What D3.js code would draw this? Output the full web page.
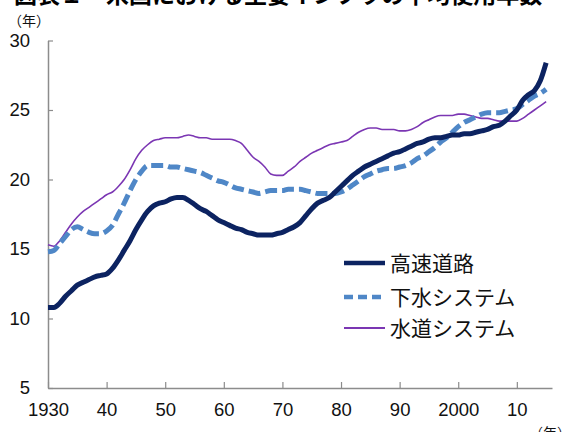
<!DOCTYPE html>
<html><head><meta charset="utf-8">
<script src="https://cdn.jsdelivr.net/npm/d3@7"></script>
<style>
html,body{margin:0;padding:0;background:#fff;}
svg{display:block;}
</style></head>
<body>
<svg id="chart" width="571" height="432"></svg>
<script>
const titleText = "図表１　米国における主要インフラの平均使用年数";
const seriesNames = ["高速道路", "下水システム", "水道システム"];
const startYear = 1930;
const highway = [10.8,10.8,11.1,11.6,12.0,12.4,12.6,12.8,13.0,13.1,
  13.2,13.6,14.2,14.9,15.6,16.4,17.1,17.7,18.1,18.3,
  18.4,18.6,18.7,18.7,18.5,18.2,17.9,17.7,17.4,17.1,
  16.9,16.7,16.5,16.4,16.2,16.1,16.0,16.0,16.0,16.1,
  16.2,16.4,16.6,16.9,17.4,17.9,18.3,18.5,18.7,19.1,
  19.5,19.9,20.3,20.6,20.9,21.1,21.3,21.5,21.7,21.9,
  22.0,22.2,22.4,22.6,22.7,22.9,23.0,23.0,23.1,23.2,
  23.2,23.3,23.3,23.4,23.5,23.6,23.8,23.9,24.2,24.6,
  25.0,25.7,26.1,26.4,27.1,28.4];
const sewer = [14.8,14.9,15.4,15.9,16.4,16.6,16.4,16.2,16.1,16.1,
  16.3,16.7,17.5,18.3,19.2,20.0,20.6,21.0,21.0,21.0,
  21.0,20.9,20.9,20.8,20.7,20.6,20.5,20.3,20.1,19.9,
  19.8,19.6,19.4,19.3,19.2,19.1,19.0,19.1,19.2,19.2,
  19.2,19.3,19.3,19.3,19.2,19.1,19.0,19.0,19.0,19.0,
  19.1,19.3,19.6,19.9,20.2,20.4,20.6,20.7,20.8,20.8,
  20.9,21.0,21.2,21.5,21.7,22.0,22.3,22.7,23.0,23.4,
  23.8,24.1,24.3,24.5,24.7,24.8,24.8,24.8,24.9,25.0,
  25.1,25.4,25.7,26.0,26.2,26.5];
const water = [15.3,15.2,15.6,16.2,16.8,17.3,17.7,18.0,18.3,18.6,
  18.9,19.1,19.5,20.0,20.7,21.5,22.1,22.5,22.8,22.9,
  23.0,23.0,23.0,23.1,23.2,23.1,23.0,23.0,22.9,22.9,
  22.9,22.9,22.8,22.6,22.1,21.6,21.3,20.9,20.4,20.3,
  20.3,20.6,20.9,21.3,21.6,21.9,22.1,22.3,22.5,22.6,
  22.7,22.8,23.1,23.4,23.6,23.7,23.7,23.6,23.6,23.6,
  23.5,23.5,23.6,23.8,24.1,24.3,24.5,24.6,24.6,24.6,
  24.7,24.7,24.6,24.5,24.4,24.4,24.3,24.2,24.2,24.2,
  24.2,24.4,24.7,25.0,25.3,25.6];
const xTickYears = [1930,1940,1950,1960,1970,1980,1990,2000,2010];
const xTickLabels = ["1930","40","50","60","70","80","90","2000","10"];
const yTicks = [5,10,15,20,25,30];
const unitLabel = "（年）";

const svg = d3.select("#chart");
const x = d3.scaleLinear().domain([1930, 2016]).range([48, 552]);
const y = d3.scaleLinear().domain([5, 30]).range([388, 40.5]);
const axisColor = "#8c8c8c";
const numFont = "'Liberation Sans', Arial, sans-serif";
const jpFont = "'Noto Sans CJK JP', sans-serif";

// title (cropped at top)
svg.append("text").attr("x", 14).attr("y", 3)
  .attr("font-family", jpFont).attr("font-weight", "bold").attr("font-size", 23)
  .attr("fill", "#000").text(titleText);

// axes
const gx = svg.append("g").attr("transform", "translate(0,388)")
  .call(d3.axisBottom(x).tickValues(xTickYears).tickSize(-6).tickSizeOuter(0).tickFormat((d,i)=>xTickLabels[i]));
gx.select(".domain").attr("stroke", axisColor).attr("stroke-width", 1.5);
gx.selectAll(".tick line").attr("stroke", axisColor).attr("stroke-width", 1.2);
gx.selectAll(".tick text").attr("y", 15).attr("dy", "0.71em")
  .attr("font-family", numFont).attr("font-size", 18.5).attr("fill", "#111");

const gy = svg.append("g").attr("transform", "translate(48,0)")
  .call(d3.axisLeft(y).tickValues(yTicks).tickSize(-5).tickSizeOuter(0));
gy.select(".domain").attr("stroke", axisColor).attr("stroke-width", 1.5);
gy.selectAll(".tick line").attr("stroke", axisColor).attr("stroke-width", 1.2);
gy.selectAll(".tick text").attr("x", -18).attr("font-family", numFont).attr("font-size", 18.5).attr("fill", "#111");

// unit labels
svg.append("text").attr("x", 8).attr("y", 26).attr("font-family", jpFont)
  .attr("font-size", 14).attr("fill", "#111").text(unitLabel);
svg.append("text").attr("x", 529).attr("y", 438).attr("font-family", jpFont)
  .attr("font-size", 14).attr("fill", "#111").text(unitLabel);

// lines
const line = d3.line().x((d,i)=>x(startYear+i)).y(d=>y(d)).curve(d3.curveMonotoneX);
const styles = [
  {data: highway, color: "#0c2361", width: 5, dash: null},
  {data: sewer, color: "#4f87c7", width: 5, dash: "12,5"},
  {data: water, color: "#7b36b3", width: 1.6, dash: null}
];
[2,1,0].forEach(k=>{
  const s = styles[k];
  svg.append("path").datum(s.data).attr("d", line).attr("fill", "none")
    .attr("stroke", s.color).attr("stroke-width", s.width)
    .attr("stroke-dasharray", s.dash).attr("stroke-linejoin", "round");
});

// legend
const legY = [263, 297, 328];
seriesNames.forEach((name, k)=>{
  const s = styles[k];
  svg.append("line").attr("x1", 344).attr("x2", 385).attr("y1", legY[k]).attr("y2", legY[k])
    .attr("stroke", s.color).attr("stroke-width", s.width === 5 ? 4.5 : 1.8)
    .attr("stroke-dasharray", s.dash ? "9,5" : null);
  svg.append("text").attr("x", 390).attr("y", legY[k]).attr("dy", "0.36em")
    .attr("font-family", jpFont).attr("font-size", 21).attr("fill", "#111").text(name);
});
</script>
</body></html>
